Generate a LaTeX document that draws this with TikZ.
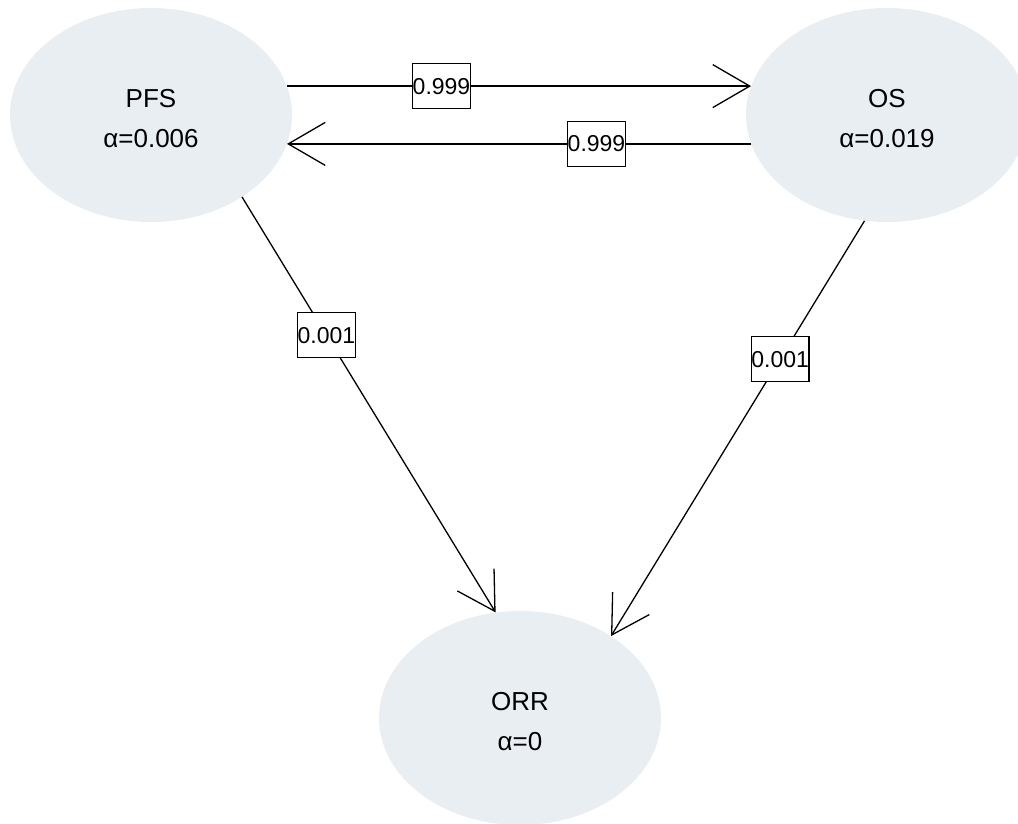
\documentclass[tikz,border=0pt]{standalone}
\usepackage{fontspec}
\setmainfont{Liberation Sans}
\usetikzlibrary{shapes.geometric,arrows.meta}
\definecolor{nodefill}{RGB}{233,238,243}
\newcommand{\toppad}{\rule{0pt}{26pt}}
\tikzset{
  state/.style={ellipse, fill=nodefill, minimum width=282pt, minimum height=214pt, inner sep=0pt,
    align=center, font=\fontsize{26}{40}\selectfont},
  edge/.style={line width=1.3pt, -{Straight Barb[length=37pt, width=43pt, line width=1.3pt]}},
  lbl/.style={draw, line width=1.3pt, fill=white, minimum width=57pt, minimum height=45pt, inner sep=0pt,
    font=\fontsize{23}{23}\selectfont, pos=0.333}
}
\begin{document}
\begin{tikzpicture}[x=1pt,y=-1pt]
\clip (0,0) rectangle (1018,823);
\node[state] (pfs) at (151,115) {\toppad PFS\\α=0.006};
\node[state] (os) at (887,115) {\toppad OS\\α=0.019};
\node[state] (orr) at (520,718) {\toppad ORR\\α=0};
\draw[edge] (pfs.12) -- node[lbl]{0.999} (os.168);
\draw[edge] (os.192) -- node[lbl]{0.999} (pfs.-12);
\draw[edge] (pfs.-42) -- node[lbl]{0.001} (orr.103);
\draw[edge] (os.-102) -- node[lbl]{0.001} (orr.42);
\end{tikzpicture}
\end{document}
